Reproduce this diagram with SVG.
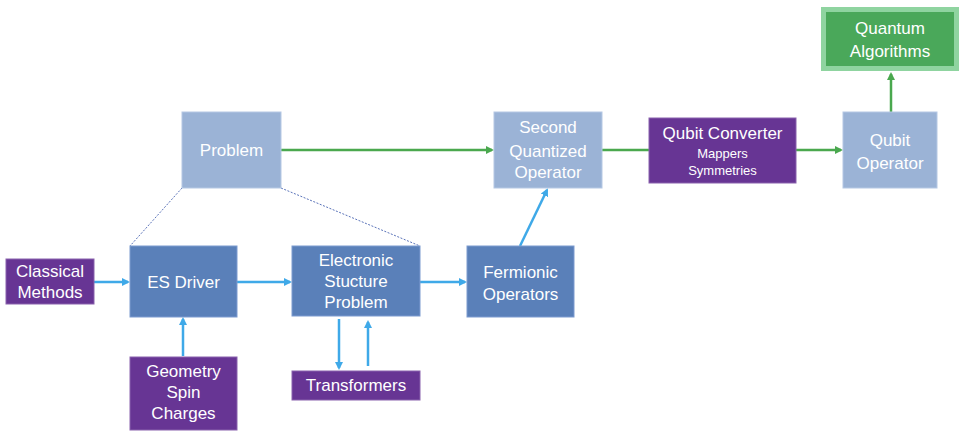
<svg xmlns="http://www.w3.org/2000/svg" width="964" height="440" viewBox="0 0 964 440">
<style>
text{font-family:"Liberation Sans","Noto Sans",sans-serif;fill:#fff;text-anchor:middle;font-size:17px}
.sm{font-size:13px}
.mid{fill:#5a80b9;stroke:#7d9bd0;stroke-width:1}
.lt{fill:#9bb3d6;stroke:#b5c8e4;stroke-width:1}
.pu{fill:#673594;stroke:#8a62ad;stroke-width:1}
.bl{stroke:#3fa9e8;stroke-width:2.5;fill:none}
.gr{stroke:#4aa84e;stroke-width:2.5;fill:none}
.dt{stroke:#5a73b9;stroke-width:1;stroke-dasharray:2 1.5;fill:none}
</style>
<defs>
<marker id="ab" markerWidth="8" markerHeight="8" refX="6" refY="4" orient="auto" markerUnits="userSpaceOnUse"><path d="M0,0 L8,4 L0,8 Z" fill="#3fa9e8"/></marker>
<marker id="ag" markerWidth="8" markerHeight="8" refX="6" refY="4" orient="auto" markerUnits="userSpaceOnUse"><path d="M0,0 L8,4 L0,8 Z" fill="#4aa84e"/></marker>
</defs>
<rect width="964" height="440" fill="#fff"/>
<g id="connectors">
<line class="dt" x1="182" y1="188" x2="130" y2="246"/>
<line class="dt" x1="281" y1="188" x2="420" y2="246"/>
<line class="bl" x1="94" y1="282" x2="128" y2="282" marker-end="url(#ab)"/>
<line class="bl" x1="183" y1="356" x2="183" y2="319" marker-end="url(#ab)"/>
<line class="bl" x1="237" y1="282" x2="290" y2="282" marker-end="url(#ab)"/>
<line class="bl" x1="420" y1="282" x2="465" y2="282" marker-end="url(#ab)"/>
<line class="bl" x1="339" y1="319" x2="339" y2="368" marker-end="url(#ab)"/>
<line class="bl" x1="368" y1="366" x2="368" y2="322" marker-end="url(#ab)"/>
<line class="bl" x1="520" y1="246" x2="547" y2="190" marker-end="url(#ab)"/>
<line class="gr" x1="281" y1="150" x2="492" y2="150" marker-end="url(#ag)"/>
<line class="gr" x1="602" y1="150" x2="649" y2="150"/>
<line class="gr" x1="796" y1="150" x2="841" y2="150" marker-end="url(#ag)"/>
<line class="gr" x1="891" y1="112" x2="891" y2="74" marker-end="url(#ag)"/>
</g>
<g id="classical"><rect class="pu" x="6" y="259" width="88" height="45"/><text x="50" y="277">Classical</text><text x="50" y="298">Methods</text></g>
<g id="esdriver"><rect class="mid" x="130" y="246" width="107" height="71"/><text x="183.5" y="288">ES Driver</text></g>
<g id="geometry"><rect class="pu" x="130" y="357" width="107" height="73"/><text x="183.5" y="377">Geometry</text><text x="183.5" y="398">Spin</text><text x="183.5" y="419">Charges</text></g>
<g id="esp"><rect class="mid" x="292" y="246" width="128" height="70"/><text x="356" y="266">Electronic</text><text x="356" y="287">Stucture</text><text x="356" y="308">Problem</text></g>
<g id="transformers"><rect class="pu" x="292" y="371" width="128" height="29"/><text x="356" y="391">Transformers</text></g>
<g id="fermionic"><rect class="mid" x="467" y="246" width="107" height="71"/><text x="520.5" y="278">Fermionic</text><text x="520.5" y="300">Operators</text></g>
<g id="problem"><rect class="lt" x="182" y="112" width="99" height="76"/><text x="231.5" y="156">Problem</text></g>
<g id="sqo"><rect class="lt" x="494" y="112" width="108" height="76"/><text x="548" y="133">Second</text><text x="548" y="157">Quantized</text><text x="548" y="178">Operator</text></g>
<g id="qconv"><rect class="pu" x="649" y="118" width="147" height="65"/><text x="722.5" y="139">Qubit Converter</text><text class="sm" x="722.5" y="158">Mappers</text><text class="sm" x="722.5" y="175">Symmetries</text></g>
<g id="qop"><rect class="lt" x="843" y="112" width="94" height="76"/><text x="890" y="146">Qubit</text><text x="890" y="169">Operator</text></g>
<g id="qalg"><rect x="823.5" y="9.5" width="133" height="59" fill="#4aa85a" stroke="#8fd4a0" stroke-width="5"/><text x="890" y="34">Quantum</text><text x="890" y="57">Algorithms</text></g>
</svg>
